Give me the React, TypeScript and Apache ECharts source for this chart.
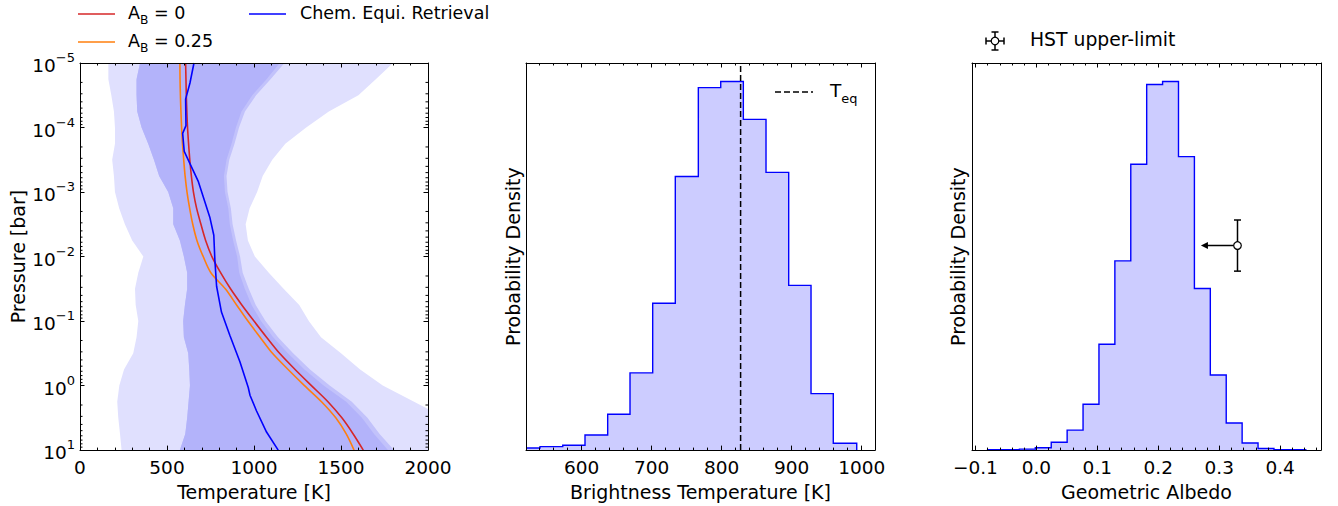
import { useEffect, useRef } from "react";
import * as echarts from "echarts";

const FONT = "DejaVu Sans";

// ---- Left panel: temperature–pressure profiles ----
// Pressure levels, log10(bar)
const LOG_P = [-5, -4.75, -4.5, -4.25, -4, -3.75, -3.5, -3.25, -3, -2.75, -2.5, -2.25, -2, -1.75, -1.5, -1.25, -1, -0.75, -0.5, -0.25, 0, 0.25, 0.5, 0.75, 1];
// 2-sigma envelope [K]
const OUTER_LEFT = [163, 163, 180, 195, 201, 201, 185, 195, 201, 225, 258, 300, 364, 335, 316, 320, 335, 325, 306, 253, 226, 214, 220, 230, 239];
const OUTER_RIGHT = [1799, 1700, 1600, 1430, 1300, 1180, 1105, 1050, 1018, 975, 952, 965, 1005, 1085, 1170, 1260, 1315, 1385, 1500, 1610, 1740, 1920, 2100, 2200, 2300];
// 1-sigma envelope [K]
const INNER_LEFT = [345, 325, 325, 329, 354, 392, 425, 455, 507, 536, 536, 574, 597, 616, 616, 603, 593, 597, 622, 628, 632, 624, 616, 605, 574];
const INNER_RIGHT = [1148, 1072, 990, 928, 896, 871, 842, 827, 833, 852, 861, 880, 903, 915, 947, 986, 1040, 1110, 1195, 1290, 1400, 1530, 1620, 1690, 1770];
// Upper 1-sigma bound of the wider model set [K]
const MID_RIGHT = [1175, 1095, 1012, 948, 914, 888, 858, 842, 848, 867, 877, 897, 920, 935, 970, 1010, 1066, 1138, 1225, 1322, 1435, 1562, 1652, 1722, 1805];
// Model profiles [K]
const T_AB0 = [607, 609, 611, 614, 618, 624, 631, 640, 652, 670, 695, 722, 758, 808, 865, 930, 1000, 1072, 1147, 1236, 1330, 1425, 1505, 1570, 1628];
const T_AB025 = [574, 575, 577, 580, 584, 589, 596, 604, 615, 630, 648, 672, 708, 752, 835, 900, 965, 1035, 1106, 1196, 1290, 1388, 1470, 1530, 1575];
// Chemical-equilibrium retrieval profile
const CHEM_LOG_P = [-5, -4.69, -4.44, -4.03, -3.91, -3.63, -3.17, -2.61, -2.33, -1.95, -1.54, -1.14, -0.78, -0.37, 0.03, 0.15, 0.39, 0.72, 1.0];
const CHEM_T = [655, 632, 607, 609, 590, 599, 679, 746, 769, 775, 785, 813, 861, 919, 967, 977, 1014, 1072, 1139];
const LOG_MINOR = [2, 3, 4, 5, 6, 7, 8, 9];

// ---- Middle panel: brightness temperature posterior ----
const TB_EDGES = [507.9, 540.4, 572.9, 604.7, 637.1, 669.0, 701.4, 733.7, 766.6, 798.6, 830.9, 863.3, 895.7, 927.6, 959.4, 992.9];
const TB_DENSITY = [0.03, 0.05, 0.07, 0.22, 0.52, 1.12, 2.13, 3.97, 5.26, 5.35, 4.8, 4.03, 2.39, 0.82, 0.1];
const T_EQ = 827;

// ---- Right panel: geometric albedo posterior ----
const AG_EDGES = [-0.08, -0.0539, -0.0278, -0.0017, 0.0244, 0.0505, 0.0766, 0.1027, 0.1288, 0.1549, 0.181, 0.2071, 0.2332, 0.2593, 0.2854, 0.3115, 0.3376, 0.3637, 0.3898, 0.4159, 0.442];
const AG_DENSITY = [0.006, 0.006, 0.02, 0.045, 0.154, 0.391, 0.897, 2.07, 3.7, 5.59, 7.15, 7.21, 5.74, 3.16, 1.47, 0.53, 0.14, 0.03, 0.006, 0.006];
const HST_ALBEDO = 0.33;
const HST_DENSITY = 4.0;
const HST_YERR = 0.5;
const HST_ARROW = 0.06;

const BLACK = "#000";
const RED = "#d62728";
const ORANGE = "#ff7f0e";
const BLUE = "#0000ff";
const HIST_FILL = "#ccccff";

const TICK_FS = 18.5;
const NAME_FS = 19;

const labelStyle = { color: BLACK, fontSize: TICK_FS, fontFamily: FONT };
const nameStyle = { color: BLACK, fontSize: NAME_FS, fontFamily: FONT };
const spine = { show: true, onZero: false, lineStyle: { color: BLACK, width: 1 } };
const tickIn = { show: true, inside: true, length: 4.5, lineStyle: { color: BLACK, width: 1 } };
const minorIn = (n: number) => ({ show: true, splitNumber: n, length: 2.5, lineStyle: { color: BLACK, width: 1 } });
const noSplit = { show: false };

const clipRect = (cs: any) => ({ type: "rect", shape: { x: cs.x, y: cs.y, width: cs.width, height: cs.height } });

function bandSeries(left: number[], right: number[], color: string) {
  return {
    type: "custom",
    xAxisIndex: 0,
    yAxisIndex: 0,
    silent: true,
    clip: true,
    z: 1,
    data: [[1000, 0.01]],
    renderItem: (params: any, api: any) => {
      const pts: number[][] = [];
      LOG_P.forEach((lp, i) => pts.push(api.coord([left[i], Math.pow(10, lp)])));
      for (let i = LOG_P.length - 1; i >= 0; i--) pts.push(api.coord([right[i], Math.pow(10, LOG_P[i])]));
      return {
        type: "polygon",
        shape: { points: pts },
        style: { fill: color },
        clipPath: clipRect(params.coordSys),
      };
    },
  };
}

function histSeries(edges: number[], dens: number[], xi: number, yi: number) {
  return {
    type: "custom",
    xAxisIndex: xi,
    yAxisIndex: yi,
    silent: true,
    clip: true,
    z: 2,
    data: [[edges[0], 0]],
    renderItem: (params: any, api: any) => {
      const pts: number[][] = [api.coord([edges[0], 0])];
      dens.forEach((d, i) => {
        pts.push(api.coord([edges[i], d]));
        pts.push(api.coord([edges[i + 1], d]));
      });
      pts.push(api.coord([edges[edges.length - 1], 0]));
      return {
        type: "group",
        clipPath: clipRect(params.coordSys),
        children: [
          { type: "polygon", shape: { points: pts }, style: { fill: HIST_FILL } },
          { type: "polyline", shape: { points: pts }, style: { stroke: BLUE, lineWidth: 1.4, fill: null } },
        ],
      };
    },
  };
}

function profileSeries(name: string, logP: number[], temps: number[], color: string, smooth: boolean) {
  return {
    name,
    type: "line",
    xAxisIndex: 0,
    yAxisIndex: 0,
    z: 3,
    smooth: smooth ? 0.3 : false,
    showSymbol: false,
    symbol: "none",
    clip: true,
    lineStyle: { color, width: 1.6 },
    data: logP.map((lp, i) => [temps[i], Math.pow(10, lp)]),
  };
}

const supRich = {
  b: { fontSize: TICK_FS, fontFamily: FONT, color: BLACK, lineHeight: 24, verticalAlign: "bottom" },
  e: { fontSize: 13, fontFamily: FONT, color: BLACK, lineHeight: 13, verticalAlign: "top" },
};
const subRich = (fs: number) => ({
  t: { fontSize: fs, fontFamily: FONT, fill: BLACK, lineHeight: fs + 5, verticalAlign: "top" },
  s: { fontSize: fs * 0.7, fontFamily: FONT, fill: BLACK, lineHeight: fs * 0.7, verticalAlign: "bottom" },
});

const logLabel = (v: number) => {
  const e = Math.round(Math.log10(v));
  return `{b|10}{e|${e < 0 ? "\u2212" + -e : e}}`;
};
const stepLabel = (step: number, digits: number) => (v: number) => {
  const k = v / step;
  if (Math.abs(k - Math.round(k)) > 1e-6) return "";
  const s = (Math.round(k) * step).toFixed(digits);
  return s.replace("-", "\u2212");
};

function buildOption() {
  const minorPressures: number[][] = [];
  for (let e = -5; e < 1; e++) LOG_MINOR.forEach((m) => minorPressures.push([1000, m * Math.pow(10, e)]));
  const tbMax = Math.max(...TB_DENSITY) * 1.05;
  const agMax = Math.max(...AG_DENSITY) * 1.05;

  const grids = [
    { left: 80, top: 63, width: 348, height: 394 },
    { left: 526, top: 63, width: 349, height: 394 },
    { left: 972, top: 63, width: 349, height: 394 },
  ];

  const bottomLabel = (formatter: (v: number) => string) => ({ ...labelStyle, margin: 8, formatter });

  const xAxis = [
    {
      type: "value", gridIndex: 0, position: "bottom", min: 0, max: 2000, interval: 500, z: 10,
      axisLine: spine, axisTick: tickIn, minorTick: minorIn(5), splitLine: noSplit,
      axisLabel: bottomLabel((v: number) => String(v)),
      name: "Temperature [K]", nameLocation: "middle", nameGap: 24, nameTextStyle: nameStyle,
    },
    {
      type: "value", gridIndex: 0, position: "top", min: 0, max: 2000, interval: 500, z: 10,
      axisLine: spine, axisTick: tickIn, minorTick: minorIn(5), splitLine: noSplit, axisLabel: { show: false },
    },
    {
      type: "value", gridIndex: 1, position: "bottom", min: 520.4, max: 1019, minInterval: 100, maxInterval: 100, z: 10,
      axisLine: spine, axisTick: tickIn, minorTick: minorIn(5), splitLine: noSplit,
      axisLabel: bottomLabel(stepLabel(100, 0)),
      name: "Brightness Temperature [K]", nameLocation: "middle", nameGap: 24, nameTextStyle: nameStyle,
    },
    {
      type: "value", gridIndex: 1, position: "top", min: 520.4, max: 1019, minInterval: 100, maxInterval: 100, z: 10,
      axisLine: spine, axisTick: tickIn, minorTick: minorIn(5), splitLine: noSplit, axisLabel: { show: false },
    },
    {
      type: "value", gridIndex: 2, position: "bottom", min: -0.1056, max: 0.467, minInterval: 0.1, maxInterval: 0.1, z: 10,
      axisLine: spine, axisTick: tickIn, minorTick: minorIn(5), splitLine: noSplit,
      axisLabel: bottomLabel(stepLabel(0.1, 1)),
      name: "Geometric Albedo", nameLocation: "middle", nameGap: 24, nameTextStyle: nameStyle,
    },
    {
      type: "value", gridIndex: 2, position: "top", min: -0.1056, max: 0.467, minInterval: 0.1, maxInterval: 0.1, z: 10,
      axisLine: spine, axisTick: tickIn, minorTick: minorIn(5), splitLine: noSplit, axisLabel: { show: false },
    },
  ];

  const yAxis = [
    {
      type: "log", logBase: 10, gridIndex: 0, position: "left", min: 1e-5, max: 10, inverse: true, z: 10,
      axisLine: spine, axisTick: tickIn, splitLine: noSplit,
      axisLabel: { margin: 5, formatter: logLabel, rich: supRich },
      name: "Pressure [bar]", nameLocation: "middle", nameGap: 53, nameTextStyle: nameStyle,
    },
    {
      type: "log", logBase: 10, gridIndex: 0, position: "right", min: 1e-5, max: 10, inverse: true, z: 10,
      axisLine: spine, axisTick: tickIn, splitLine: noSplit, axisLabel: { show: false },
    },
    {
      type: "value", gridIndex: 1, position: "left", min: 0, max: tbMax, z: 10,
      axisLine: spine, axisTick: { show: false }, splitLine: noSplit, axisLabel: { show: false },
      name: "Probability Density", nameLocation: "middle", nameGap: 4, nameTextStyle: nameStyle,
    },
    {
      type: "value", gridIndex: 1, position: "right", min: 0, max: tbMax, z: 10,
      axisLine: spine, axisTick: { show: false }, splitLine: noSplit, axisLabel: { show: false },
    },
    {
      type: "value", gridIndex: 2, position: "left", min: 0, max: agMax, z: 10,
      axisLine: spine, axisTick: { show: false }, splitLine: noSplit, axisLabel: { show: false },
      name: "Probability Density", nameLocation: "middle", nameGap: 5, nameTextStyle: nameStyle,
    },
    {
      type: "value", gridIndex: 2, position: "right", min: 0, max: agMax, z: 10,
      axisLine: spine, axisTick: { show: false }, splitLine: noSplit, axisLabel: { show: false },
    },
  ];

  const series: any[] = [
    bandSeries(OUTER_LEFT, OUTER_RIGHT, "#e0e0fe"),
    bandSeries(INNER_LEFT, MID_RIGHT, "#c2c2fb"),
    bandSeries(INNER_LEFT, INNER_RIGHT, "#b3b3fa"),
    profileSeries("A_B = 0", LOG_P, T_AB0, RED, true),
    profileSeries("A_B = 0.25", LOG_P, T_AB025, ORANGE, true),
    profileSeries("Chem. Equi. Retrieval", CHEM_LOG_P, CHEM_T, BLUE, false),
    {
      // log-scale minor ticks on both pressure spines
      type: "custom", xAxisIndex: 0, yAxisIndex: 0, silent: true, z: 12,
      data: minorPressures,
      renderItem: (params: any, api: any) => {
        const y = api.coord([1000, api.value(1)])[1];
        const cs = params.coordSys;
        const st = { stroke: BLACK, lineWidth: 1 };
        return {
          type: "group",
          children: [
            { type: "line", shape: { x1: cs.x, y1: y, x2: cs.x + 2.5, y2: y }, style: st },
            { type: "line", shape: { x1: cs.x + cs.width - 2.5, y1: y, x2: cs.x + cs.width, y2: y }, style: st },
          ],
        };
      },
    },
    histSeries(TB_EDGES, TB_DENSITY, 2, 2),
    {
      name: "T_eq", type: "line", xAxisIndex: 2, yAxisIndex: 2, z: 4, symbol: "none", showSymbol: false,
      lineStyle: { color: BLACK, width: 1.5, type: [6, 3] },
      data: [[T_EQ, 0], [T_EQ, tbMax]],
    },
    histSeries(AG_EDGES, AG_DENSITY, 4, 4),
    {
      // HST upper limit: error bar with leftward arrow
      type: "custom", xAxisIndex: 4, yAxisIndex: 4, silent: true, z: 5,
      data: [[HST_ALBEDO, HST_DENSITY]],
      renderItem: (params: any, api: any) => {
        const x = api.value(0);
        const y = api.value(1);
        const c = api.coord([x, y]);
        const top = api.coord([x, y + HST_YERR]);
        const bot = api.coord([x, y - HST_YERR]);
        const tip = api.coord([x - HST_ARROW, y]);
        const st = { stroke: BLACK, lineWidth: 1.5 };
        return {
          type: "group",
          children: [
            { type: "line", shape: { x1: c[0], y1: top[1], x2: c[0], y2: bot[1] }, style: st },
            { type: "line", shape: { x1: c[0] - 3.5, y1: top[1], x2: c[0] + 3.5, y2: top[1] }, style: st },
            { type: "line", shape: { x1: c[0] - 3.5, y1: bot[1], x2: c[0] + 3.5, y2: bot[1] }, style: st },
            { type: "line", shape: { x1: c[0], y1: c[1], x2: tip[0] + 4, y2: c[1] }, style: st },
            { type: "polygon", shape: { points: [[tip[0], c[1]], [tip[0] + 7, c[1] - 3.5], [tip[0] + 7, c[1] + 3.5]] }, style: { fill: BLACK } },
            { type: "circle", shape: { cx: c[0], cy: c[1], r: 3.8 }, style: { fill: "#fff", stroke: BLACK, lineWidth: 1.2 } },
          ],
        };
      },
    },
  ];

  const legendLine = (x1: number, x2: number, y: number, color: string, dash?: number[]) => ({
    type: "line",
    shape: { x1, y1: y, x2, y2: y },
    style: { stroke: color, lineWidth: dash ? 1.5 : 1.6, lineDash: dash },
    z: 20,
  });
  const legendText = (x: number, y: number, text: string, fs: number) => ({
    type: "text",
    x,
    y,
    z: 20,
    style: { text, fill: BLACK, fontSize: fs, fontFamily: FONT, verticalAlign: "middle", rich: subRich(fs) },
  });

  const graphic = [
    legendLine(78, 115, 14, RED),
    legendText(128, 15, "{t|A}{s|B}{t| = 0}", 17.5),
    legendLine(78, 115, 42, ORANGE),
    legendText(128, 43, "{t|A}{s|B}{t| = 0.25}", 17.5),
    legendLine(249, 286, 14, BLUE),
    legendText(300, 15, "{t|Chem. Equi. Retrieval}", 17.5),
    legendLine(775, 813, 92, BLACK, [6, 3]),
    legendText(830, 93, "{t|T}{s|eq}", 18.5),
    {
      type: "group",
      x: 995,
      y: 41,
      z: 20,
      children: [
        { type: "line", shape: { x1: 0, y1: -9, x2: 0, y2: 9 }, style: { stroke: BLACK, lineWidth: 1.5 } },
        { type: "line", shape: { x1: -3.5, y1: -9, x2: 3.5, y2: -9 }, style: { stroke: BLACK, lineWidth: 1.5 } },
        { type: "line", shape: { x1: -3.5, y1: 9, x2: 3.5, y2: 9 }, style: { stroke: BLACK, lineWidth: 1.5 } },
        { type: "line", shape: { x1: -9, y1: 0, x2: 9, y2: 0 }, style: { stroke: BLACK, lineWidth: 1.5 } },
        { type: "line", shape: { x1: -9, y1: -3.5, x2: -9, y2: 3.5 }, style: { stroke: BLACK, lineWidth: 1.5 } },
        { type: "line", shape: { x1: 9, y1: -3.5, x2: 9, y2: 3.5 }, style: { stroke: BLACK, lineWidth: 1.5 } },
        { type: "circle", shape: { cx: 0, cy: 0, r: 3.8 }, style: { fill: "#fff", stroke: BLACK, lineWidth: 1.2 } },
      ],
    },
    legendText(1030, 42, "{t|HST upper-limit}", 18.8),
  ];

  return {
    animation: false,
    backgroundColor: "#fff",
    textStyle: { fontFamily: FONT },
    grid: grids,
    xAxis,
    yAxis,
    series,
    graphic,
  };
}

export default function App() {
  const ref = useRef<HTMLDivElement>(null);
  useEffect(() => {
    document.body.style.margin = "0";
    if (!ref.current) return;
    const chart = echarts.init(ref.current, undefined, { renderer: "svg" });
    chart.setOption(buildOption() as any);
    return () => chart.dispose();
  }, []);
  return <div ref={ref} style={{ position: "absolute", left: 0, top: 0, width: 1338, height: 506 }} />;
}
